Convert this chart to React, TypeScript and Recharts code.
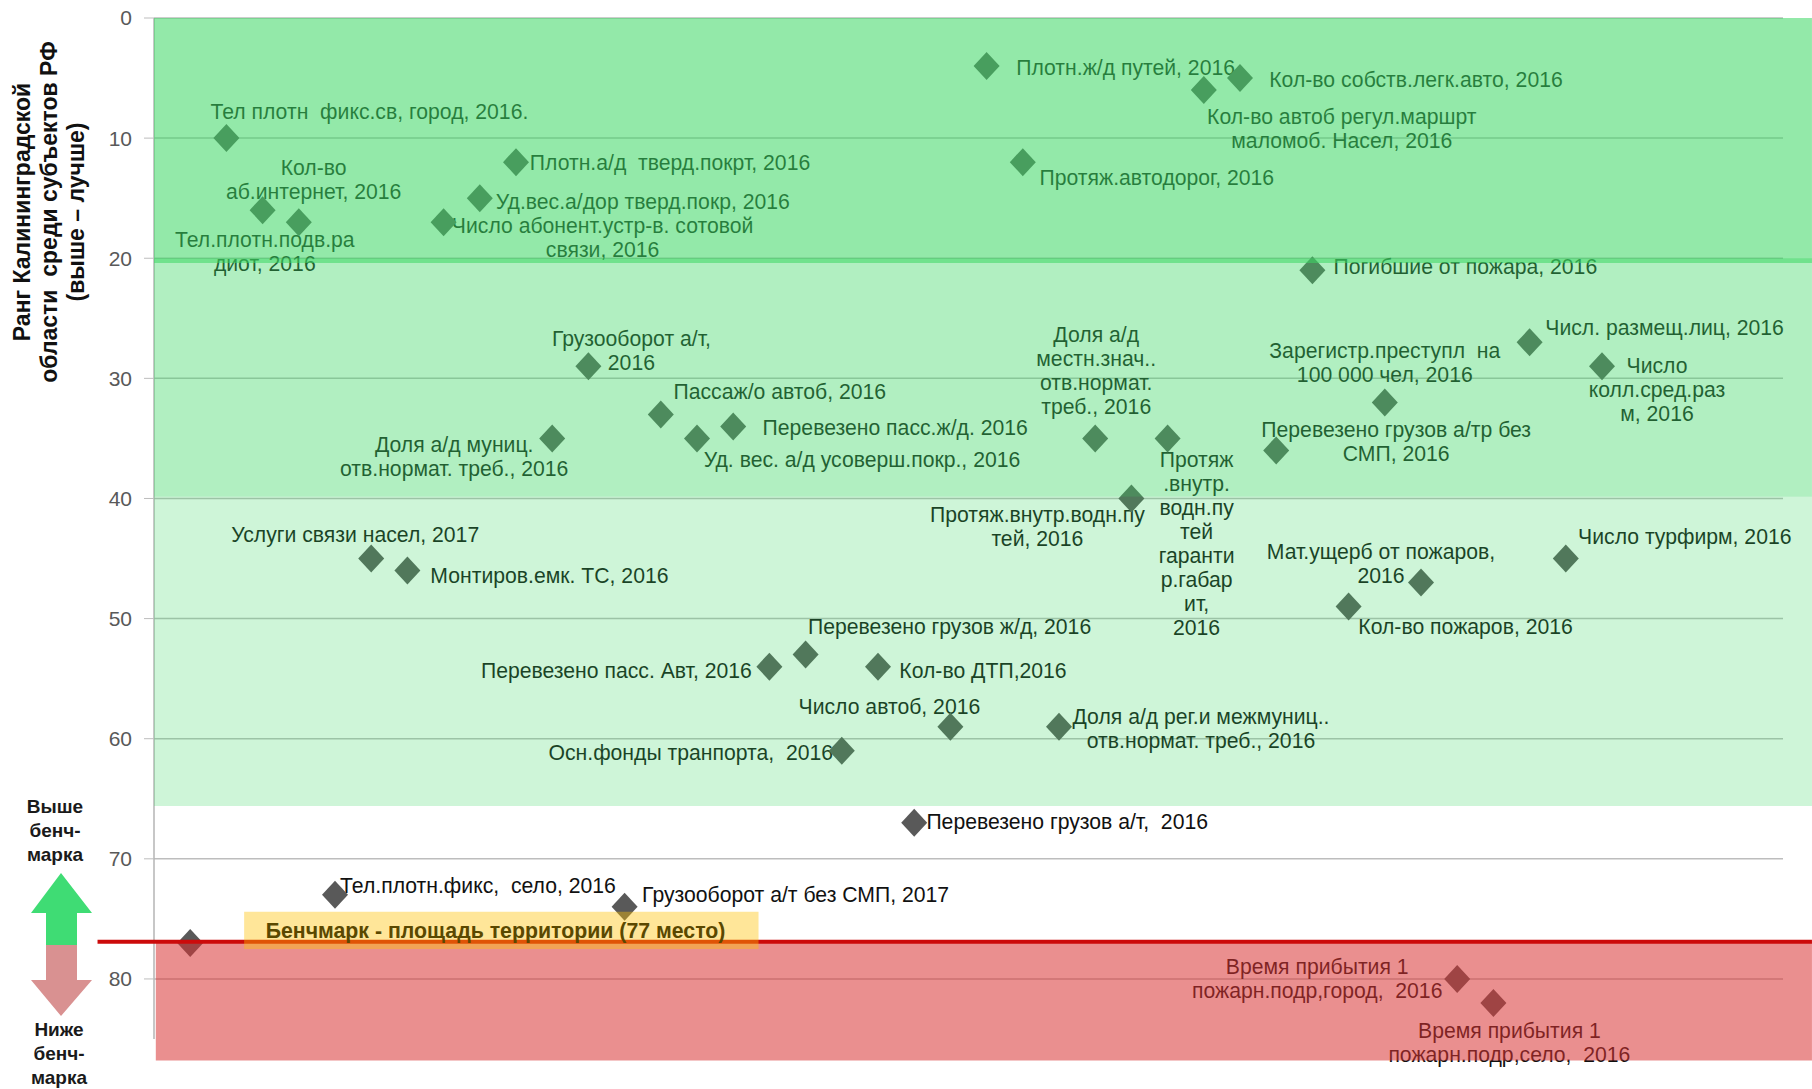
import React from "react";
import {
  ComposedChart,
  Scatter,
  XAxis,
  YAxis,
  CartesianGrid,
  ReferenceArea,
  ReferenceLine,
  Label,
} from "recharts";

// Position of each indicator along the hidden x axis
const positions = [
  1, 2, 3, 4, 5, 6, 7, 8, 9, 10, 11, 12, 13, 14, 15, 16, 17, 18, 19, 20,
  21, 22, 23, 24, 25, 26, 27, 28, 29, 30, 31, 32, 33, 34, 35, 36, 37, 38, 39, 40,
];

// Rank among the regions, lower is better
const ranks = [
  77, 10, 16, 17, 73, 45, 46, 17, 15, 12, 35, 29, 74, 33, 35, 34, 54, 53, 61, 54,
  67, 59, 4, 12, 59, 35, 40, 35, 6, 5, 36, 21, 49, 32, 47, 80, 82, 27, 45, 29,
];

const indicators = [
  "",
  "Тел плотн  фикс.св, город, 2016.",
  "Кол-во\nаб.интернет, 2016",
  "Тел.плотн.подв.ра\nдиот, 2016",
  "Тел.плотн.фикс,  село, 2016",
  "Услуги связи насел, 2017",
  "Монтиров.емк. ТС, 2016",
  "Число абонент.устр-в. сотовой\nсвязи, 2016",
  "Уд.вес.а/дор тверд.покр, 2016",
  "Плотн.а/д  тверд.покрт, 2016",
  "Доля а/д муниц.\nотв.нормат. треб., 2016",
  "Грузооборот а/т,\n2016",
  "Грузооборот а/т без СМП, 2017",
  "Пассаж/о автоб, 2016",
  "Уд. вес. а/д усоверш.покр., 2016",
  "Перевезено пасс.ж/д. 2016",
  "Перевезено пасс. Авт, 2016",
  "Перевезено грузов ж/д, 2016",
  "Осн.фонды транпорта,  2016",
  "Кол-во ДТП,2016",
  "Перевезено грузов а/т,  2016",
  "Число автоб, 2016",
  "Плотн.ж/д путей, 2016",
  "Протяж.автодорог, 2016",
  "Доля а/д рег.и межмуниц..\nотв.нормат. треб., 2016",
  "Доля а/д\nместн.знач..\nотв.нормат.\nтреб., 2016",
  "Протяж.внутр.водн.пу\nтей, 2016",
  "Протяж\n.внутр.\nводн.пу\nтей\nгаранти\nр.габар\nит,\n2016",
  "Кол-во автоб регул.маршрт\nмаломоб. Насел, 2016",
  "Кол-во собств.легк.авто, 2016",
  "Перевезено грузов а/тр без\nСМП, 2016",
  "Погибшие от пожара, 2016",
  "Кол-во пожаров, 2016",
  "Зарегистр.преступл  на\n100 000 чел, 2016",
  "Мат.ущерб от пожаров,\n2016",
  "Время прибытия 1\nпожарн.подр,город,  2016",
  "Время прибытия 1\nпожарн.подр,село,  2016",
  "Числ. размещ.лиц, 2016",
  "Число турфирм, 2016",
  "Число\nколл.сред.раз\nм, 2016",
];

const yTicks = [0, 10, 20, 30, 40, 50, 60, 70, 80];

// Label placement: centre of the first line relative to the marker, in px
const labelOffsets = [
  [0, 0], [143, -27], [51, -43], [-34, 17], [143, -9], [-16, -24], [142, 5], [159, 3],
  [163, 3], [154, 0], [-98, 6], [43, -28], [171, -12], [119, -23], [165, 21], [162, 1],
  [-153, 4], [144, -28], [-151, 2], [105, 4], [153, -1], [-61, -20], [139, 1], [134, 15],
  [142, -10], [1, -104], [-94, 16], [29, 21], [138, 26], [176, 1], [120, -21], [153, -4],
  [117, 20], [0, -52], [-40, -31], [-140, -12], [16, 28], [135, -15], [119, -22], [55, -1],
];

const table = positions.map((x, i) => ({
  x,
  rank: ranks[i],
  name: indicators[i],
  dx: labelOffsets[i][0],
  dy: labelOffsets[i][1],
}));

const FONT = "'Liberation Sans', Arial, sans-serif";
const LINE = 24;

// Diamond marker with its caption, both sit under the translucent bands
const Marker = (props: any) => {
  const { cx, cy, payload } = props;
  const lines = payload.name ? payload.name.split("\n") : [];
  return (
    <g>
      {lines.map((line: string, i: number) => (
        <text
          key={i}
          x={cx + payload.dx}
          y={cy + payload.dy + i * LINE}
          textAnchor="middle"
          dominantBaseline="central"
          fontFamily={FONT}
          fontSize={21.2}
          fill="#111111"
          style={{ whiteSpace: "pre" }}
        >
          {line}
        </text>
      ))}
      <polygon
        points={`${cx},${cy - 14} ${cx + 13},${cy} ${cx},${cy + 14} ${cx - 13},${cy}`}
        fill="#595959"
      />
    </g>
  );
};

const ruleLine = (x: number, y: number, lines: string[], step: number, extra: any) => (
  <text x={x} y={y} textAnchor="middle" fontFamily={FONT} fontWeight="bold" {...extra}>
    {lines.map((l, i) => (
      <tspan key={i} x={x} dy={i === 0 ? 0 : step}>
        {l}
      </tspan>
    ))}
  </text>
);

const App = () => {
  return (
    <div style={{ position: "absolute", left: 0, top: 0, width: 1812, height: 1089, overflow: "hidden", background: "#fff" }}>
      <ComposedChart
        width={1812}
        height={1089}
        data={table}
        margin={{ top: 18, right: 29, bottom: 50, left: 94 }}
      >
        <CartesianGrid horizontal vertical={false} stroke="#bdbdbd" strokeWidth={1.5} syncWithTicks />
        <XAxis type="number" dataKey="x" domain={[0, 45]} hide />
        <YAxis
          type="number"
          reversed
          domain={[0, 85]}
          ticks={yTicks}
          interval={0}
          width={60}
          tickSize={10}
          tickMargin={12}
          tick={{ fontSize: 21, fontFamily: FONT, fill: "#595959" }}
          axisLine={{ stroke: "#b5b5b5", strokeWidth: 1.5 }}
          tickLine={{ stroke: "#bdbdbd" }}
        />
        <Scatter dataKey="rank" shape={Marker} isAnimationActive={false} />
        <ReferenceArea x1={0} x2={45.8} y1={0} y2={20.4} fill="#3bd763" fillOpacity={0.55} ifOverflow="visible" zIndex={1000} />
        <ReferenceArea x1={0} x2={45.8} y1={20} y2={39.85} fill="#3bd763" fillOpacity={0.4} ifOverflow="visible" zIndex={1000} />
        <ReferenceArea x1={0} x2={45.8} y1={39.85} y2={65.6} fill="#3bd763" fillOpacity={0.25} ifOverflow="visible" zIndex={1000} />
        <ReferenceArea x1={0.05} x2={45.8} y1={76.9} y2={86.8} fill="#d93333" fillOpacity={0.55} ifOverflow="visible" zIndex={1000} />
        <ReferenceArea x1={2.33} x2={16.54} y1={75.95} y2={75.95} fillOpacity={0} ifOverflow="visible" zIndex={1001}>
          <Label value="Бенчмарк - площадь территории (77 место)" position="center" fontFamily={FONT} fontWeight="bold" fontSize={21.3} fill="#5a4800" />
        </ReferenceArea>
        <ReferenceLine
          segment={[{ x: -1.56, y: 76.9 }, { x: 45.8, y: 76.9 }]}
          stroke="#cc0b0b"
          strokeWidth={4}
          ifOverflow="visible"
          zIndex={1002}
        />
        <ReferenceArea x1={2.49} x2={16.7} y1={74.4} y2={77.5} fill="#ffc000" fillOpacity={0.4} ifOverflow="visible" zIndex={1003} />
      </ComposedChart>

      <svg width={1812} height={1089} style={{ position: "absolute", left: 0, top: 0, pointerEvents: "none" }}>
        <polygon points="61,873 92,913 77,913 77,945 46,945 46,913 31,913" fill="#3fdc74" />
        <polygon points="46,945 77,945 77,980 92,980 61,1016 31,980 46,980" fill="#d99191" />
        {ruleLine(55, 813, ["Выше", "бенч-", "марка"], 24, { fontSize: 19, fill: "#1a1a1a" })}
        {ruleLine(59, 1036, ["Ниже", "бенч-", "марка"], 24, { fontSize: 19, fill: "#1a1a1a" })}
        <g transform="translate(0,212) rotate(-90)">
          {ruleLine(0, 30, ["Ранг Калининградской", "области  среди субъектов РФ", "(выше – лучше)"], 27, {
            fontSize: 23,
            fill: "#111111",
            style: { whiteSpace: "pre" },
          })}
        </g>
      </svg>
    </div>
  );
};

export default App;
